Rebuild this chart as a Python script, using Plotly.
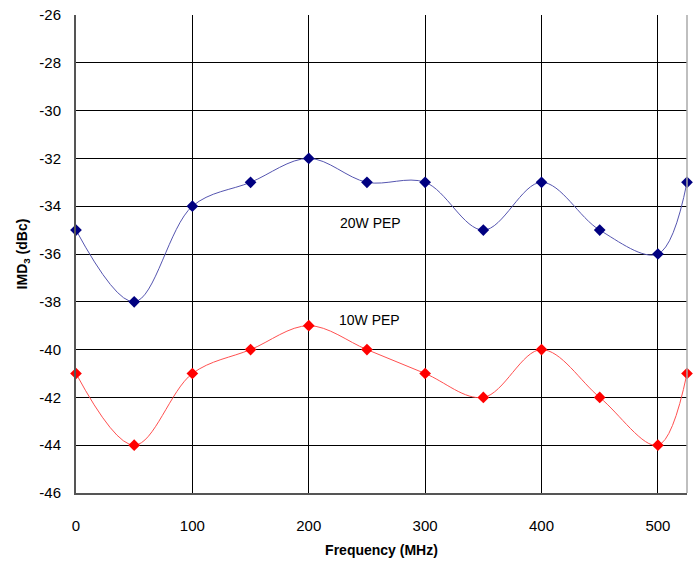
import plotly.graph_objects as go

freq = [0, 50, 100, 150, 200, 250, 300, 350, 400, 450, 500, 525]
imd_20w = [-35, -38, -34, -33, -32, -33, -33, -35, -33, -35, -36, -33]
imd_10w = [-41, -44, -41, -40, -39, -40, -41, -42, -40, -42, -44, -41]
x_ticks = [0, 100, 200, 300, 400, 500]
y_ticks = list(range(-46, -25, 2))
y_tick_text = [str(v) for v in y_ticks]

fig = go.Figure()
fig.add_trace(go.Scatter(
    x=freq, y=imd_20w, mode="lines+markers",
    line=dict(color="#5555b0", width=1, shape="spline", smoothing=1),
    marker=dict(symbol="diamond", size=9, color="#000080"),
    cliponaxis=False, showlegend=False))
fig.add_trace(go.Scatter(
    x=freq, y=imd_10w, mode="lines+markers",
    line=dict(color="#ff5050", width=1, shape="spline", smoothing=1),
    marker=dict(symbol="diamond", size=9, color="#ff0000"),
    cliponaxis=False, showlegend=False))

fig.add_annotation(x=253, y=-34.7, text="20W PEP", showarrow=False,
                   font=dict(family="Arial, Liberation Sans", size=14, color="black"))
fig.add_annotation(x=252, y=-38.75, text="10W PEP", showarrow=False,
                   font=dict(family="Arial, Liberation Sans", size=14, color="black"))

fig.update_layout(
    width=697, height=563,
    margin=dict(l=76, r=10, t=15, b=70, autoexpand=False),
    paper_bgcolor="white", plot_bgcolor="white",
    font=dict(family="Arial, Liberation Sans", size=14, color="black"),
    shapes=[
        dict(type="line", xref="paper", yref="paper", x0=1, x1=1, y0=0, y1=1,
             line=dict(color="#aaaaaa", width=1.5)),
    ],
)
fig.update_xaxes(
    range=[0, 525], tickvals=x_ticks, showgrid=True, gridcolor="black", gridwidth=1,
    showline=True, linecolor="#555555", linewidth=2, zeroline=False,
    ticks="", ticklabelstandoff=18, automargin=False,
    tickfont=dict(size=15),
    title=dict(text="<b>Frequency (MHz)</b>", font=dict(size=14), standoff=12),
)
fig.update_yaxes(
    range=[-46, -26], tickvals=y_ticks, ticktext=y_tick_text,
    showgrid=True, gridcolor="black", gridwidth=1,
    showline=True, linecolor="#555555", linewidth=2, zeroline=False,
    ticks="", ticklabelstandoff=10, automargin=False,
    tickfont=dict(size=15),
    title=dict(text="<b>IMD<sub>3</sub> (dBc)</b>", font=dict(size=14), standoff=8),
)
fig.write_html("out.html", config={"displayModeBar": False},
               post_script="document.body.style.margin='0';")
